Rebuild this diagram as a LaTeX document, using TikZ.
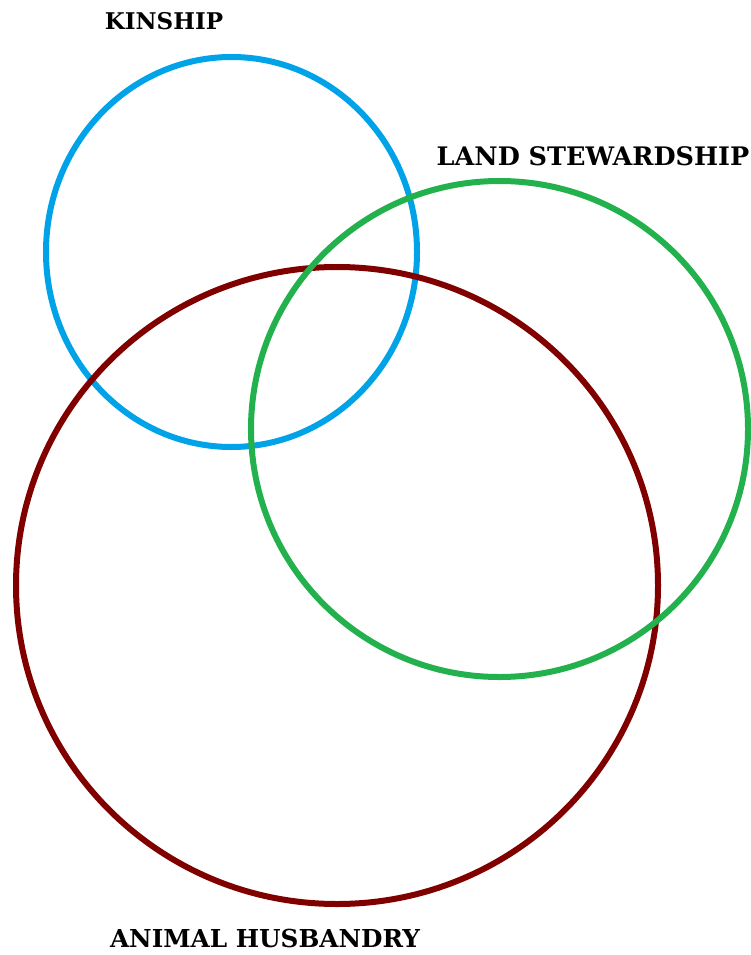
\documentclass[tikz,border=0pt]{standalone}
\usepackage{fontspec}
\setmainfont{DejaVu Serif}
\definecolor{kinblue}{HTML}{00A2E8}
\definecolor{landgreen}{HTML}{22B14C}
\definecolor{animred}{HTML}{800000}
\begin{document}
\begin{tikzpicture}[x=1pt,y=-1pt,
  ring/.style={line width=6pt},
  lbl/.style={font=\bfseries, inner sep=0pt, text=black}]
\useasboundingbox (0,0) rectangle (751,955);
\draw[ring, kinblue] (231.5,252) ellipse [x radius=185.5, y radius=195];
\draw[ring, animred] (337,585.5) ellipse [x radius=321, y radius=318.5];
\draw[ring, landgreen] (499.5,429) ellipse [x radius=248.5, y radius=248];
\node[lbl, font=\bfseries\fontsize{23}{26}\selectfont] (kin) at (164,21) {KINSHIP};
\node[lbl, font=\bfseries\fontsize{25.5}{28}\selectfont] (land) at (593,156) {LAND STEWARDSHIP};
\node[lbl, font=\bfseries\fontsize{24.7}{28}\selectfont] (anim) at (265,938.5) {ANIMAL HUSBANDRY};
\end{tikzpicture}
\end{document}
